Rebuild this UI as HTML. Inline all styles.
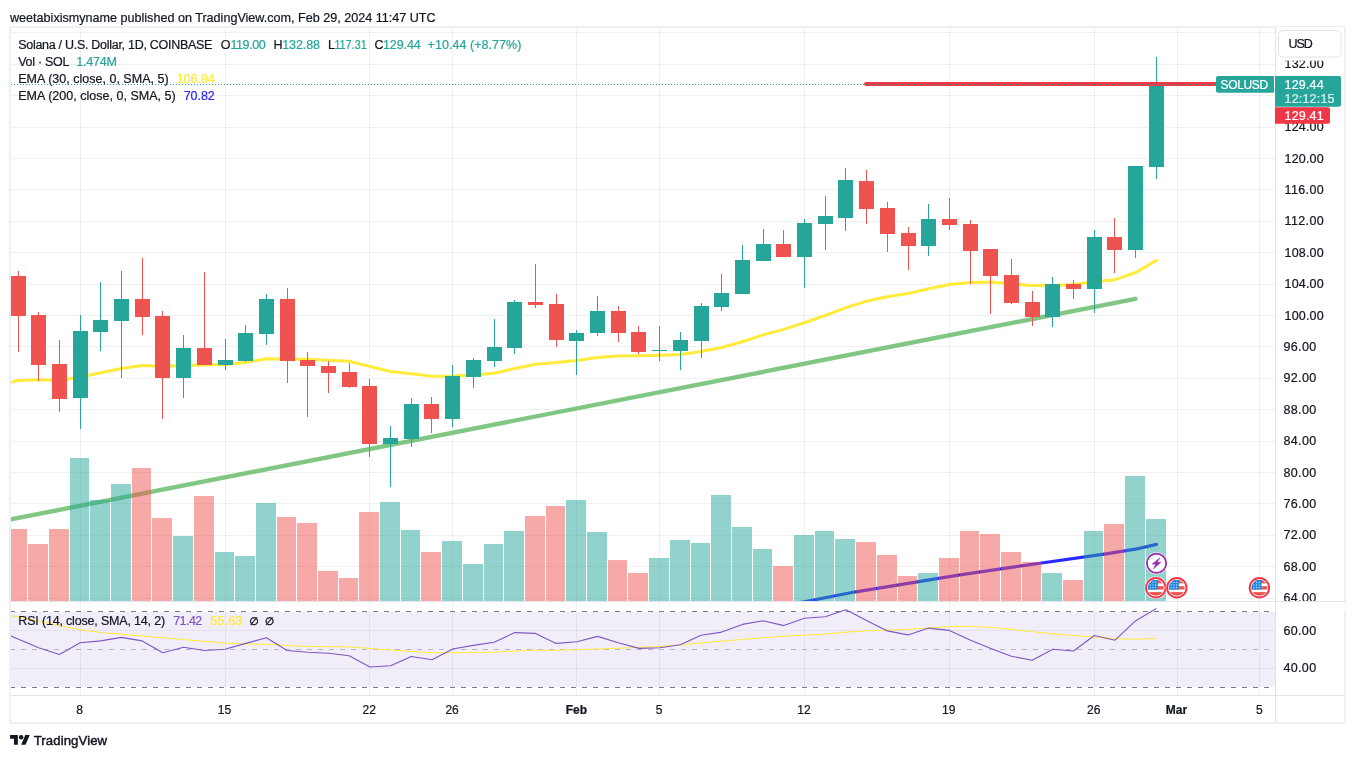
<!DOCTYPE html>
<html lang="en"><head><meta charset="utf-8"><title>SOLUSD chart snapshot</title>
<style>html,body{margin:0;padding:0;background:#fff}body{width:1355px;height:758px;overflow:hidden}svg{display:block}text{font-family:"Liberation Sans","DejaVu Sans",sans-serif}</style>
</head><body>
<svg width="1355" height="758" viewBox="0 0 1355 758">
<defs>
<clipPath id="cm"><rect x="10" y="27" width="1266" height="574"/></clipPath>
<clipPath id="cr"><rect x="10" y="602" width="1266" height="94"/></clipPath>
<clipPath id="cf"><circle cx="0" cy="0" r="8"/></clipPath>
<g id="flag"><circle r="11.2" fill="#fff"/><circle r="9.75" fill="#fff" stroke="#f23645" stroke-width="1.9"/><g clip-path="url(#cf)"><rect x="-8" y="-8" width="16" height="16" fill="#fff"/><rect x="-8" y="-8" width="16" height="3.6" fill="#ef5350"/><rect x="-8" y="-1.6" width="16" height="3.3" fill="#ef5350"/><rect x="-8" y="4.3" width="16" height="3.7" fill="#ef5350"/><rect x="-8" y="-8" width="10" height="9.7" fill="#1e88e5"/><rect x="-6.0" y="-6.0" width="1" height="1" fill="#fff"/><rect x="-6.0" y="-3.3" width="1" height="1" fill="#fff"/><rect x="-6.0" y="-0.7" width="1" height="1" fill="#fff"/><rect x="-3.3" y="-6.0" width="1" height="1" fill="#fff"/><rect x="-3.3" y="-3.3" width="1" height="1" fill="#fff"/><rect x="-3.3" y="-0.7" width="1" height="1" fill="#fff"/><rect x="-0.7" y="-6.0" width="1" height="1" fill="#fff"/><rect x="-0.7" y="-3.3" width="1" height="1" fill="#fff"/><rect x="-0.7" y="-0.7" width="1" height="1" fill="#fff"/></g></g>
</defs>
<rect width="1355" height="758" fill="#fff"/>
<path d="M10 32.5H1276M10 64.5H1276M10 95.5H1276M10 127.5H1276M10 158.5H1276M10 189.5H1276M10 221.5H1276M10 252.5H1276M10 284.5H1276M10 315.5H1276M10 346.5H1276M10 378.5H1276M10 409.5H1276M10 441.5H1276M10 472.5H1276M10 503.5H1276M10 535.5H1276M10 566.5H1276M10 598.5H1276M10 630.5H1276M10 668.5H1276" stroke="#2a2e39" stroke-opacity="0.07" stroke-width="1" fill="none" shape-rendering="crispEdges"/>
<path d="M80.5 27V601M80.5 602V695M225.5 27V601M225.5 602V695M369.5 27V601M369.5 602V695M452.5 27V601M452.5 602V695M576.5 27V601M576.5 602V695M659.5 27V601M659.5 602V695M804.5 27V601M804.5 602V695M949.5 27V601M949.5 602V695M1094.5 27V601M1094.5 602V695M1177.5 27V601M1177.5 602V695M1259.5 27V601M1259.5 602V695" stroke="#2a2e39" stroke-opacity="0.07" stroke-width="1" fill="none" shape-rendering="crispEdges"/>
<g clip-path="url(#cm)">
<polyline points="789.0,604.8 807.0,601.2 855.8,591.8 917.3,581.8 960.0,574.8 1041.6,563.0 1104.3,554.2 1135.5,549.2 1156.5,544.4" fill="none" stroke="#2a2aff" stroke-width="3.2" stroke-linecap="round" stroke-linejoin="round"/>
<line x1="0" y1="521.5" x2="1135.5" y2="298.8" stroke="#4caf50" stroke-opacity="0.7" stroke-width="4.4" stroke-linecap="round"/>
<path d="M70 458H89V601H70ZM90 500H110V601H90ZM111 484H131V601H111ZM173 536H193V601H173ZM215 552H234V601H215ZM235 556H255V601H235ZM256 503H276V601H256ZM380 502H400V601H380ZM401 530H420V601H401ZM442 541H462V601H442ZM463 564H483V601H463ZM484 544H503V601H484ZM504 531H524V601H504ZM566 500H586V601H566ZM587 532H607V601H587ZM649 558H669V601H649ZM670 540H690V601H670ZM691 543H710V601H691ZM711 495H731V601H711ZM732 527H752V601H732ZM753 549H772V601H753ZM794 535H814V601H794ZM815 531H834V601H815ZM835 539H855V601H835ZM918 573H938V601H918ZM1042 573H1062V601H1042ZM1084 531H1103V601H1084ZM1125 476H1145V601H1125ZM1146 519H1166V601H1146Z" fill="#26a69a" fill-opacity="0.5" shape-rendering="crispEdges"/>
<path d="M10 529H27V601H10ZM28 544H48V601H28ZM49 529H69V601H49ZM132 468H151V601H132ZM152 518H172V601H152ZM194 496H214V601H194ZM277 517H296V601H277ZM297 523H317V601H297ZM318 571H338V601H318ZM339 578H358V601H339ZM359 512H379V601H359ZM421 552H441V601H421ZM525 516H545V601H525ZM546 506H565V601H546ZM608 560H627V601H608ZM628 573H648V601H628ZM773 566H793V601H773ZM856 542H876V601H856ZM877 555H897V601H877ZM898 576H917V601H898ZM939 558H959V601H939ZM960 531H979V601H960ZM980 534H1000V601H980ZM1001 552H1021V601H1001ZM1022 562H1041V601H1022ZM1063 580H1083V601H1063ZM1104 524H1124V601H1104Z" fill="#ef5350" fill-opacity="0.5" shape-rendering="crispEdges"/>
<polyline points="8.0,383.0 18.0,380.5 38.7,379.8 59.4,380.2 80.1,377.2 100.8,372.8 121.5,368.5 142.2,365.5 162.9,366.2 183.6,365.5 204.3,365.0 225.0,364.4 245.7,362.4 266.4,358.7 287.1,359.2 307.8,359.2 328.5,360.2 349.2,361.2 369.9,366.5 390.6,371.5 411.3,373.8 432.0,376.3 452.7,376.0 473.4,375.0 494.1,373.3 514.8,368.5 535.5,364.3 556.2,362.6 576.9,360.4 597.6,357.6 618.3,356.0 639.0,355.7 659.7,355.3 680.3,354.5 701.0,351.5 721.7,347.5 742.4,341.7 763.1,334.9 783.8,329.4 804.5,322.7 825.2,315.5 845.9,307.6 866.6,301.3 887.3,296.8 908.0,293.5 928.7,288.8 949.4,284.5 970.1,282.5 990.8,282.0 1011.5,283.8 1032.2,285.5 1052.9,285.5 1073.6,284.5 1094.3,281.7 1115.0,279.7 1135.7,272.5 1156.4,260.4" fill="none" stroke="#ffeb3b" stroke-width="3" stroke-linecap="round" stroke-linejoin="round"/>
<path d="M80 315h1V429h-1ZM73 331h15V398h-15ZM100 282h1V351h-1ZM93 320h15V332h-15ZM121 271h1V378h-1ZM114 299h15V321h-15ZM183 335h1V398h-1ZM176 348h15V378h-15ZM225 339h1V370h-1ZM218 360h15V365h-15ZM245 325h1V362h-1ZM238 333h15V361h-15ZM266 294h1V345h-1ZM259 299h15V334h-15ZM390 426h1V487h-1ZM383 438h15V444h-15ZM411 398h1V447h-1ZM404 404h15V439h-15ZM452 365h1V427h-1ZM445 376h15V419h-15ZM473 358h1V388h-1ZM466 360h15V377h-15ZM494 319h1V367h-1ZM487 347h15V361h-15ZM514 300h1V354h-1ZM507 302h15V348h-15ZM576 330h1V375h-1ZM569 333h15V341h-15ZM597 296h1V336h-1ZM590 311h15V333h-15ZM659 326h1V361h-1ZM652 350h15V351h-15ZM680 332h1V370h-1ZM673 340h15V351h-15ZM701 303h1V358h-1ZM694 306h15V341h-15ZM721 274h1V311h-1ZM714 293h15V307h-15ZM742 245h1V294h-1ZM735 260h15V294h-15ZM763 229h1V261h-1ZM756 244h15V261h-15ZM804 219h1V288h-1ZM797 223h15V257h-15ZM825 196h1V250h-1ZM818 216h15V224h-15ZM845 168h1V231h-1ZM838 180h15V218h-15ZM928 204h1V256h-1ZM921 219h15V246h-15ZM1052 277h1V327h-1ZM1045 284h15V317h-15ZM1094 230h1V313h-1ZM1087 237h15V289h-15ZM1135 166h1V258h-1ZM1128 166h15V250h-15ZM1156 57h1V179h-1ZM1149 84h15V167h-15Z" fill="#26a69a" shape-rendering="crispEdges"/>
<path d="M18 271h1V352h-1ZM11 276h15V316h-15ZM38 312h1V381h-1ZM31 315h15V365h-15ZM59 340h1V412h-1ZM52 364h15V399h-15ZM142 258h1V335h-1ZM135 299h15V317h-15ZM162 311h1V419h-1ZM155 316h15V378h-15ZM204 272h1V365h-1ZM197 348h15V365h-15ZM287 288h1V383h-1ZM280 299h15V361h-15ZM307 352h1V417h-1ZM300 360h15V366h-15ZM328 361h1V393h-1ZM321 366h15V373h-15ZM349 363h1V388h-1ZM342 372h15V387h-15ZM369 379h1V457h-1ZM362 386h15V444h-15ZM431 397h1V433h-1ZM424 404h15V419h-15ZM535 264h1V308h-1ZM528 302h15V305h-15ZM556 294h1V347h-1ZM549 304h15V340h-15ZM618 306h1V342h-1ZM611 311h15V333h-15ZM638 326h1V354h-1ZM631 332h15V352h-15ZM783 230h1V257h-1ZM776 244h15V257h-15ZM866 170h1V224h-1ZM859 181h15V209h-15ZM887 202h1V252h-1ZM880 208h15V234h-15ZM908 227h1V270h-1ZM901 233h15V246h-15ZM949 198h1V230h-1ZM942 219h15V225h-15ZM970 220h1V284h-1ZM963 224h15V251h-15ZM990 249h1V314h-1ZM983 249h15V276h-15ZM1011 259h1V304h-1ZM1004 275h15V303h-15ZM1032 291h1V326h-1ZM1025 302h15V317h-15ZM1073 280h1V299h-1ZM1066 284h15V289h-15ZM1114 218h1V273h-1ZM1107 237h15V250h-15Z" fill="#ef5350" shape-rendering="crispEdges"/>
<line x1="866" y1="83.9" x2="1230" y2="83.9" stroke="#f23645" stroke-width="4" stroke-linecap="round"/>
<line x1="11" y1="84.5" x2="1274" y2="84.5" stroke="#26a69a" stroke-width="1" stroke-dasharray="1 2" shape-rendering="crispEdges"/>
</g>
<g transform="translate(1156.5 563.3)"><circle r="11" fill="#fff"/><circle r="9.65" fill="#fff" stroke="#9c27b0" stroke-width="1.8"/><path d="M3.2-5.2L-4.1 .8H-.5L-3.1 5.4L4.1-.8H.5Z" fill="#9c27b0" stroke="#9c27b0" stroke-width="0.7" stroke-linejoin="round"/></g>
<use href="#flag" x="1155.8" y="587.8"/>
<use href="#flag" x="1176.8" y="587.8"/>
<use href="#flag" x="1259.4" y="587.8"/>
<g clip-path="url(#cr)">
<rect x="10" y="612" width="1266" height="75" fill="#7e57c2" fill-opacity="0.1"/>
<path d="M10 611.5H1276M10 687.5H1276" stroke="#787b86" stroke-width="1" stroke-dasharray="5 6" fill="none"/>
<path d="M10 649.5H1276" stroke="#787b86" stroke-opacity="0.5" stroke-width="1" stroke-dasharray="5 6" fill="none"/>
<polyline points="-2.0,611.0 10.0,615.5 18.0,617.0 38.7,621.0 59.4,625.5 80.1,629.8 100.8,632.5 121.5,634.3 142.2,636.0 162.9,637.8 183.6,639.5 204.3,641.3 225.0,643.0 245.7,644.0 266.4,644.2 287.1,645.5 307.8,646.5 328.5,646.7 349.2,646.9 369.9,648.4 390.6,650.0 411.3,651.5 432.0,652.7 452.7,652.7 473.4,652.5 494.1,652.2 514.8,651.0 535.5,650.2 556.2,650.2 576.9,649.7 597.6,649.0 618.3,648.2 639.0,647.4 659.7,646.5 680.3,645.0 701.0,642.9 721.7,641.2 742.4,639.4 763.1,637.7 783.8,636.2 804.5,635.2 825.2,634.1 845.9,632.1 866.6,630.9 887.3,630.1 908.0,629.4 928.7,628.1 949.4,626.6 970.1,626.3 990.8,627.4 1011.5,629.4 1032.2,631.7 1052.9,633.8 1073.6,635.5 1094.3,637.0 1115.0,638.7 1135.7,639.3 1156.4,638.4" fill="none" stroke="#ffeb3b" stroke-width="1" stroke-linejoin="round"/>
<polyline points="-2.7,630.5 18.0,639.0 38.7,647.7 59.4,654.5 80.1,642.7 100.8,640.9 121.5,637.4 142.2,640.9 162.9,652.7 183.6,647.2 204.3,650.5 225.0,649.2 245.7,643.4 266.4,637.7 287.1,650.5 307.8,652.2 328.5,653.2 349.2,655.7 369.9,667.0 390.6,665.8 411.3,656.5 432.0,659.7 452.7,649.0 473.4,645.4 494.1,642.2 514.8,632.6 535.5,633.4 556.2,643.4 576.9,641.7 597.6,636.4 618.3,642.7 639.0,648.4 659.7,647.8 680.3,644.7 701.0,635.2 721.7,632.1 742.4,624.4 763.1,620.8 783.8,625.6 804.5,618.3 825.2,616.8 845.9,609.8 866.6,620.6 887.3,630.9 908.0,634.9 928.7,628.1 949.4,630.4 970.1,640.0 990.8,648.4 1011.5,656.2 1032.2,660.3 1052.9,649.2 1073.6,651.0 1094.3,635.5 1115.0,640.2 1135.7,620.7 1156.4,608.5" fill="none" stroke="#7e57c2" stroke-width="1.1" stroke-linejoin="round"/>
</g>
<rect x="10" y="27" width="1335" height="696" fill="none" stroke="#eef0f5" stroke-width="2" shape-rendering="crispEdges"/>
<path d="M1275.5 28V722M11 601.5H1344M11 695.5H1344" stroke="#e0e3eb" stroke-width="1" fill="none" shape-rendering="crispEdges"/>
<text x="1284.5" y="68.3" font-size="12.5" fill="#131722" stroke="#131722" stroke-width="0.22" textLength="39.2">132.00</text>
<text x="1284.5" y="99.7" font-size="12.5" fill="#131722" stroke="#131722" stroke-width="0.22" textLength="39.2">128.00</text>
<text x="1284.5" y="131.1" font-size="12.5" fill="#131722" stroke="#131722" stroke-width="0.22" textLength="39.2">124.00</text>
<text x="1284.5" y="162.5" font-size="12.5" fill="#131722" stroke="#131722" stroke-width="0.22" textLength="39.2">120.00</text>
<text x="1284.5" y="193.9" font-size="12.5" fill="#131722" stroke="#131722" stroke-width="0.22" textLength="39.2">116.00</text>
<text x="1284.5" y="225.3" font-size="12.5" fill="#131722" stroke="#131722" stroke-width="0.22" textLength="39.2">112.00</text>
<text x="1284.5" y="256.7" font-size="12.5" fill="#131722" stroke="#131722" stroke-width="0.22" textLength="39.2">108.00</text>
<text x="1284.5" y="288.1" font-size="12.5" fill="#131722" stroke="#131722" stroke-width="0.22" textLength="39.2">104.00</text>
<text x="1284.5" y="319.5" font-size="12.5" fill="#131722" stroke="#131722" stroke-width="0.22" textLength="39.2">100.00</text>
<text x="1283.6" y="350.9" font-size="12.5" fill="#131722" stroke="#131722" stroke-width="0.22" textLength="32.5">96.00</text>
<text x="1283.6" y="382.3" font-size="12.5" fill="#131722" stroke="#131722" stroke-width="0.22" textLength="32.5">92.00</text>
<text x="1283.6" y="413.7" font-size="12.5" fill="#131722" stroke="#131722" stroke-width="0.22" textLength="32.5">88.00</text>
<text x="1283.6" y="445.1" font-size="12.5" fill="#131722" stroke="#131722" stroke-width="0.22" textLength="32.5">84.00</text>
<text x="1283.6" y="476.5" font-size="12.5" fill="#131722" stroke="#131722" stroke-width="0.22" textLength="32.5">80.00</text>
<text x="1283.6" y="507.9" font-size="12.5" fill="#131722" stroke="#131722" stroke-width="0.22" textLength="32.5">76.00</text>
<text x="1283.6" y="539.3" font-size="12.5" fill="#131722" stroke="#131722" stroke-width="0.22" textLength="32.5">72.00</text>
<text x="1283.6" y="570.7" font-size="12.5" fill="#131722" stroke="#131722" stroke-width="0.22" textLength="32.5">68.00</text>
<text x="1283.6" y="602.1" font-size="12.5" fill="#131722" stroke="#131722" stroke-width="0.22" textLength="32.5">64.00</text>
<rect x="1276" y="602" width="69" height="9" fill="#fff"/>
<path d="M1275 601.5H1345" stroke="#e0e3eb" stroke-width="1" shape-rendering="crispEdges"/>
<text x="1283.5" y="634.9" font-size="12.5" fill="#131722" stroke="#131722" stroke-width="0.22" textLength="32.6">60.00</text>
<text x="1283.5" y="672.0" font-size="12.5" fill="#131722" stroke="#131722" stroke-width="0.22" textLength="32.6">40.00</text>
<rect x="1277" y="27" width="67" height="33.7" fill="#fff"/>
<rect x="1278.5" y="30.5" width="62.6" height="26.6" rx="4.4" fill="#fff" stroke="#e0e3eb"/>
<text x="1288.6" y="47.7" font-size="12.5" fill="#131722" stroke="#131722" stroke-width="0.22" textLength="24.2">USD</text>
<path d="M1218 76H1274V92.8H1218a2 2 0 0 1-2-2V78a2 2 0 0 1 2-2Z" fill="#26a69a"/>
<text x="1220.5" y="88.7" font-size="12" fill="#fff" stroke="#fff" stroke-width="0.22" textLength="47.6">SOLUSD</text>
<path d="M1275 76H1339a2 2 0 0 1 2 2V104.7a2 2 0 0 1-2 2H1275Z" fill="#26a69a"/>
<text x="1284.5" y="88.7" font-size="12.5" fill="#fff" stroke="#fff" stroke-width="0.22" textLength="39.2">129.44</text>
<text x="1284.5" y="102.8" font-size="12.5" fill="#fff" stroke="#fff" stroke-width="0.22" textLength="50.0" fill-opacity="0.75">12:12:15</text>
<path d="M1275 107.2H1328a2 2 0 0 1 2 2V121.8a2 2 0 0 1-2 2H1275Z" fill="#f23645"/>
<text x="1284.5" y="120.2" font-size="12.5" fill="#fff" stroke="#fff" stroke-width="0.22" textLength="39.2">129.41</text>
<text x="79.5" y="713.6" font-size="12" fill="#131722" stroke="#131722" stroke-width="0.22" text-anchor="middle">8</text>
<text x="224.4" y="713.6" font-size="12" fill="#131722" stroke="#131722" stroke-width="0.22" text-anchor="middle">15</text>
<text x="369.3" y="713.6" font-size="12" fill="#131722" stroke="#131722" stroke-width="0.22" text-anchor="middle">22</text>
<text x="452.1" y="713.6" font-size="12" fill="#131722" stroke="#131722" stroke-width="0.22" text-anchor="middle">26</text>
<text x="576.3" y="713.6" font-size="12" fill="#131722" stroke="#131722" stroke-width="0.22" text-anchor="middle" font-weight="bold">Feb</text>
<text x="659.1" y="713.6" font-size="12" fill="#131722" stroke="#131722" stroke-width="0.22" text-anchor="middle">5</text>
<text x="803.9" y="713.6" font-size="12" fill="#131722" stroke="#131722" stroke-width="0.22" text-anchor="middle">12</text>
<text x="948.8" y="713.6" font-size="12" fill="#131722" stroke="#131722" stroke-width="0.22" text-anchor="middle">19</text>
<text x="1093.7" y="713.6" font-size="12" fill="#131722" stroke="#131722" stroke-width="0.22" text-anchor="middle">26</text>
<text x="1176.5" y="713.6" font-size="12" fill="#131722" stroke="#131722" stroke-width="0.22" text-anchor="middle" font-weight="bold">Mar</text>
<text x="1259.3" y="713.6" font-size="12" fill="#131722" stroke="#131722" stroke-width="0.22" text-anchor="middle">5</text>
<text x="10.0" y="22.2" font-size="12.6" fill="#131722" stroke="#131722" stroke-width="0.22" textLength="425.6">weetabixismyname published on TradingView.com, Feb 29, 2024 11:47 UTC</text>
<text x="18.2" y="49.2" font-size="12.5" fill="#131722" stroke="#131722" stroke-width="0.22" textLength="194.2">Solana / U.S. Dollar, 1D, COINBASE</text>
<text x="220.8" y="49.2" font-size="12.5" fill="#131722" stroke="#131722" stroke-width="0.22">O</text>
<text x="230.4" y="49.2" font-size="12.5" fill="#26a69a" stroke="#26a69a" stroke-width="0.22" textLength="35.4">119.00</text>
<text x="273.4" y="49.2" font-size="12.5" fill="#131722" stroke="#131722" stroke-width="0.22">H</text>
<text x="282.2" y="49.2" font-size="12.5" fill="#26a69a" stroke="#26a69a" stroke-width="0.22" textLength="37.8">132.88</text>
<text x="327.9" y="49.2" font-size="12.5" fill="#131722" stroke="#131722" stroke-width="0.22">L</text>
<text x="334.4" y="49.2" font-size="12.5" fill="#26a69a" stroke="#26a69a" stroke-width="0.22" textLength="32.3" lengthAdjust="spacingAndGlyphs">117.31</text>
<text x="374.4" y="49.2" font-size="12.5" fill="#131722" stroke="#131722" stroke-width="0.22">C</text>
<text x="383.0" y="49.2" font-size="12.5" fill="#26a69a" stroke="#26a69a" stroke-width="0.22" textLength="37.7">129.44</text>
<text x="427.6" y="49.2" font-size="12.5" fill="#26a69a" stroke="#26a69a" stroke-width="0.22" textLength="93.8">+10.44 (+8.77%)</text>
<text x="18.2" y="66.2" font-size="12.5" fill="#131722" stroke="#131722" stroke-width="0.22" textLength="51.2">Vol · SOL</text>
<text x="76.3" y="66.2" font-size="12.5" fill="#26a69a" stroke="#26a69a" stroke-width="0.22" textLength="40.7">1.474M</text>
<text x="18.2" y="83.2" font-size="12.5" fill="#131722" stroke="#131722" stroke-width="0.22" textLength="150.4">EMA (30, close, 0, SMA, 5)</text>
<text x="176.7" y="83.2" font-size="12.5" fill="#ffeb3b" stroke="#ffeb3b" stroke-width="0.22" textLength="38.1">106.94</text>
<text x="18.2" y="100.2" font-size="12.5" fill="#131722" stroke="#131722" stroke-width="0.22" textLength="157.5">EMA (200, close, 0, SMA, 5)</text>
<text x="183.7" y="100.2" font-size="12.5" fill="#2a2aff" stroke="#2a2aff" stroke-width="0.22" textLength="31.1">70.82</text>
<text x="18.3" y="624.6" font-size="12.5" fill="#131722" stroke="#131722" stroke-width="0.22" textLength="146.8">RSI (14, close, SMA, 14, 2)</text>
<text x="173.2" y="624.6" font-size="12.5" fill="#7e57c2" stroke="#7e57c2" stroke-width="0.22" textLength="29.1">71.42</text>
<text x="210.3" y="624.6" font-size="12.5" fill="#ffeb3b" stroke="#ffeb3b" stroke-width="0.22" textLength="31.9">55.63</text>
<text x="249.2" y="624.6" font-size="10.5" fill="#131722" stroke="#131722" stroke-width="0.45">∅</text>
<text x="264.8" y="624.6" font-size="10.5" fill="#131722" stroke="#131722" stroke-width="0.45">∅</text>
<g transform="translate(10.1 732.9) scale(0.553 0.543)" fill="#131722"><path d="M14 22H7V11H0V4h14v18zM28 22h-8l7.5-18h8L28 22z"/><circle cx="20" cy="8" r="4"/></g>
<text x="33.7" y="744.9" font-size="13.2" fill="#131722" stroke="#131722" stroke-width="0.45" textLength="73.4">TradingView</text>
</svg>
</body></html>
